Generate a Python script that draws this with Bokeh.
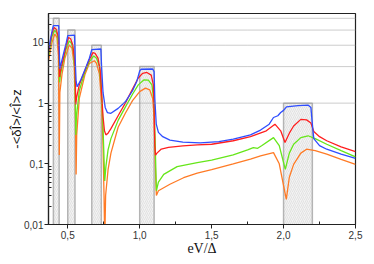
from bokeh.plotting import figure
from bokeh.models import FixedTicker, Span, Range1d
from bokeh.embed import file_html
from bokeh.resources import INLINE

# ---- data ----
rect_left = [0.4, 0.5, 0.667, 1.0, 2.0]
rect_right = [0.44, 0.55, 0.733, 1.1, 2.2]
rect_top = [25, 16, 9, 4, 1]
level_lines = [25, 16, 9, 4, 1]

x_blue = [0.366, 0.38, 0.395, 0.40, 0.437, 0.441, 0.445, 0.47, 0.49, 0.50, 0.547, 0.552, 0.558, 0.565,
          0.59, 0.62, 0.65, 0.667, 0.73, 0.735, 0.745, 0.76, 0.775, 0.80, 0.85, 0.90, 0.95, 0.98, 1.0,
          1.01, 1.09, 1.1, 1.105, 1.115, 1.13, 1.16, 1.21, 1.3, 1.42, 1.55, 1.65, 1.77, 1.84, 1.9,
          1.93, 1.96, 1.98, 2.0, 2.02, 2.1, 2.17, 2.19, 2.2, 2.21, 2.25, 2.3, 2.4, 2.5]
y_blue = [7.5, 11.5, 17, 18.9, 18.9, 8, 3.7, 6.5, 10, 13.0, 13.2, 5, 2.3, 1.86,
          2.4, 3.6, 5.5, 7.6, 7.8, 4, 1.5, 0.85, 0.70, 0.68, 0.82, 1.05, 1.6, 2.3, 3.4,
          3.62, 3.65, 3.3, 1.2, 0.45, 0.33, 0.28, 0.245, 0.228, 0.222, 0.232, 0.255, 0.30, 0.36, 0.45,
          0.58, 0.62, 0.70, 0.76, 0.87, 0.91, 0.93, 0.85, 0.45, 0.26, 0.2, 0.174, 0.145, 0.123]

x_red = [0.366, 0.39, 0.405, 0.42, 0.435, 0.443, 0.45, 0.47, 0.49, 0.505, 0.52, 0.535, 0.548, 0.553,
         0.556, 0.56, 0.58, 0.62, 0.65, 0.675, 0.69, 0.71, 0.725, 0.735, 0.745, 0.755, 0.765, 0.78,
         0.80, 0.85, 0.90, 0.95, 0.99, 1.02, 1.05, 1.08, 1.095, 1.1, 1.105, 1.11, 1.12, 1.15, 1.2,
         1.3, 1.4, 1.5, 1.65, 1.77, 1.88, 1.94, 1.98, 2.01, 2.04, 2.07, 2.12, 2.16, 2.19, 2.21, 2.25,
         2.3, 2.4, 2.5]
y_red = [6.8, 14, 17.7, 16.5, 12, 2.7, 3.5, 5.5, 9, 12.1, 11.5, 9, 5, 2,
         0.95, 1.2, 2.0, 3.5, 5.2, 6.8, 6.6, 5.5, 3.5, 1.5, 0.6, 0.35, 0.3, 0.32,
         0.38, 0.62, 1.0, 1.7, 2.6, 3.1, 3.2, 2.9, 2.0, 0.8, 0.2, 0.139, 0.15, 0.175, 0.186,
         0.197, 0.205, 0.21, 0.24, 0.28, 0.35, 0.45, 0.35, 0.224, 0.32, 0.42, 0.54, 0.53, 0.47, 0.34, 0.28,
         0.24, 0.19, 0.159]

x_green = [0.366, 0.39, 0.41, 0.425, 0.437, 0.443, 0.45, 0.47, 0.49, 0.51, 0.525, 0.54, 0.55, 0.556,
           0.56, 0.58, 0.62, 0.65, 0.68, 0.70, 0.72, 0.735, 0.745, 0.757, 0.765, 0.78, 0.80, 0.85,
           0.90, 0.95, 0.99, 1.03, 1.06, 1.085, 1.1, 1.108, 1.116, 1.13, 1.167, 1.26, 1.4, 1.5, 1.65,
           1.75, 1.79, 1.82, 1.85, 1.93, 1.97, 2.012, 2.04, 2.07, 2.12, 2.17, 2.22, 2.3, 2.4, 2.5]
y_green = [6.0, 12.5, 16, 14, 9, 2.2, 3.0, 5, 8, 10.6, 9.8, 7, 3, 0.3,
           0.6, 1.6, 3.3, 4.8, 6.0, 5.5, 4, 1.5, 0.4, 0.052, 0.09, 0.17, 0.26, 0.52,
           0.86, 1.4, 2.0, 2.42, 2.4, 2.0, 1.0, 0.2, 0.036, 0.05, 0.067, 0.09, 0.105, 0.115, 0.14,
           0.17, 0.185, 0.18, 0.2, 0.27, 0.2, 0.081, 0.15, 0.21, 0.27, 0.29, 0.26, 0.21, 0.165, 0.13]

x_orange = [0.366, 0.39, 0.41, 0.425, 0.435, 0.441, 0.445, 0.46, 0.48, 0.51, 0.53, 0.545, 0.552, 0.558,
            0.562, 0.58, 0.62, 0.65, 0.685, 0.70, 0.72, 0.735, 0.745, 0.752, 0.757, 0.763, 0.78, 0.80,
            0.85, 0.90, 0.95, 1.0, 1.04, 1.07, 1.09, 1.1, 1.108, 1.116, 1.13, 1.21, 1.305, 1.4, 1.5,
            1.65, 1.77, 1.84, 1.93, 1.97, 2.019, 2.04, 2.07, 2.12, 2.16, 2.22, 2.3, 2.4, 2.5]
y_orange = [5.0, 10, 13.8, 12, 6, 0.14, 1.5, 3.0, 5.5, 9.1, 8, 4, 1.0, 0.067,
            0.3, 1.2, 3.0, 4.5, 5.0, 4.5, 3.0, 1.0, 0.2, 0.03, 0.005, 0.03, 0.08, 0.15,
            0.40, 0.68, 1.1, 1.55, 1.77, 1.65, 1.2, 0.6, 0.1, 0.030, 0.036, 0.046, 0.059, 0.07, 0.08,
            0.1, 0.12, 0.135, 0.153, 0.1, 0.026, 0.06, 0.098, 0.15, 0.174, 0.165, 0.144, 0.118, 0.098]

x_ticks = [0.5, 1.0, 1.5, 2.0, 2.5]
x_tick_labels = ["0,5", "1,0", "1,5", "2,0", "2,5"]
x_minor = [0.75, 1.25, 1.75, 2.25]
y_ticks = [0.01, 0.1, 1, 10]
y_tick_labels = ["0,01", "0,1", "1", "10"]

# ---- figure ----
p = figure(frame_width=307, frame_height=211, y_axis_type="log", output_backend="svg",
           toolbar_location=None,
           x_range=Range1d(0.366, 2.5), y_range=Range1d(0.01, 30),
           min_border_left=48, min_border_right=18, min_border_top=13, min_border_bottom=39)
p.background_fill_color = "white"
p.border_fill_color = "white"
p.grid.visible = False
p.outline_line_color = "#222222"
p.outline_line_width = 1.2

p.quad(left=rect_left, right=rect_right, top=rect_top, bottom=[0.001] * len(rect_top),
       fill_color="#f3f3f3", line_color="#b4b4b4", line_width=1.5,
       hatch_pattern="/", hatch_color="#d6d6d6", hatch_scale=4, hatch_weight=0.6)

for v in level_lines:
    p.add_layout(Span(location=v, dimension="width", line_color="#9a9a9a",
                      line_dash="1 1", line_width=1))

p.line(x_orange, y_orange, line_color="#ff7b26", line_width=1.3)
p.line(x_green, y_green, line_color="#66e61a", line_width=1.3)
p.line(x_red, y_red, line_color="#ff1f1f", line_width=1.3)
p.line(x_blue, y_blue, line_color="#2f4dff", line_width=1.3)

xa = p.xaxis[0]
xa.ticker = FixedTicker(ticks=x_ticks, minor_ticks=x_minor)
xa.major_label_overrides = {t: l for t, l in zip(x_ticks, x_tick_labels)}
ya = p.yaxis[0]
ya.ticker = FixedTicker(ticks=y_ticks,
                        minor_ticks=[m * d for d in [0.01, 0.1, 1, 10] for m in range(2, 10)])
ya.major_label_overrides = {t: l for t, l in zip(y_ticks, y_tick_labels)}

for ax in (xa, ya):
    ax.axis_line_color = "#222222"
    ax.axis_line_width = 1.2
    ax.major_tick_line_color = "#222222"
    ax.minor_tick_line_color = "#222222"
    ax.major_tick_out = 4
    ax.major_tick_in = 0
    ax.minor_tick_out = 0
    ax.minor_tick_in = 3
    ax.major_label_text_font = "Liberation Sans"
    ax.major_label_text_font_size = "10px"
    ax.major_label_text_color = "#333333"

xa.axis_label = "eV/Δ"
xa.axis_label_text_font = "Liberation Serif"
xa.axis_label_text_font_style = "normal"
xa.axis_label_text_font_size = "14px"
xa.axis_label_text_color = "#111111"
xa.major_label_standoff = 2
xa.axis_label_standoff = -1
ya.axis_label = "-<δÎ>/<Î>z"
ya.axis_label_text_font = "Liberation Sans"
ya.axis_label_text_font_style = "normal"
ya.axis_label_text_font_size = "13px"
ya.axis_label_text_color = "#111111"
ya.major_label_standoff = 1
ya.axis_label_standoff = -3

open("out.html", "w").write(file_html(p, INLINE))
